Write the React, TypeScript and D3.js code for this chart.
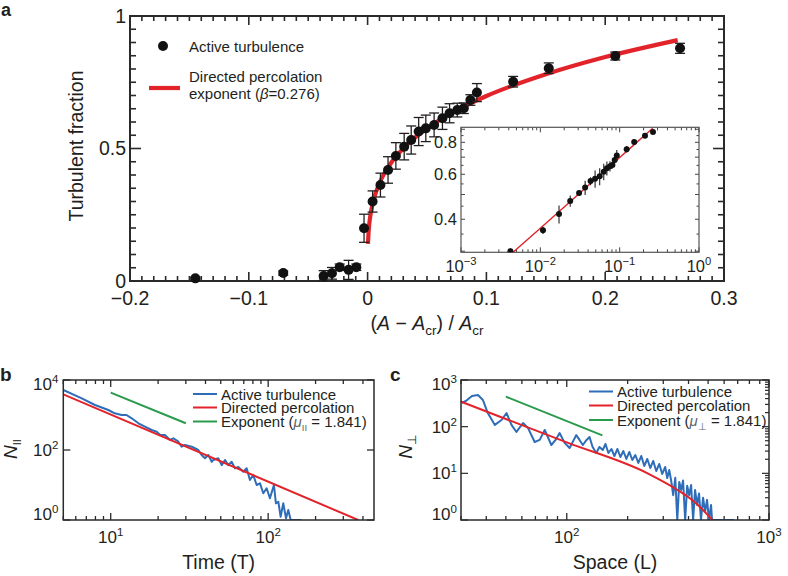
import React from 'react';
import * as d3 from 'd3';

const FONT = "'Liberation Sans', Arial, Helvetica, sans-serif";
const INK = '#231f20';
const FRAME = '#2a2a2a';
const RED = '#e3232a';
const BLUE = '#2f6db8';
const GREEN = '#2a9a4c';

// ---------------- Panel a: turbulent fraction ----------------
const fracX = [-0.145, -0.071, -0.037, -0.030, -0.0235, -0.016, -0.0095, -0.003, 0.0042, 0.0108, 0.0172, 0.0238, 0.0308, 0.0367, 0.043, 0.049, 0.056, 0.063, 0.069, 0.0755, 0.081, 0.0865, 0.092, 0.1225, 0.1525, 0.2085, 0.263];
const fracY = [0.01, 0.03, 0.019, 0.029, 0.052, 0.042, 0.052, 0.199, 0.30, 0.362, 0.419, 0.472, 0.507, 0.532, 0.564, 0.576, 0.589, 0.614, 0.633, 0.645, 0.652, 0.683, 0.711, 0.752, 0.803, 0.849, 0.878];
const fracErr = [0.004, 0.008, 0.02, 0.022, 0.012, 0.036, 0.012, 0.053, 0.04, 0.045, 0.05, 0.05, 0.05, 0.053, 0.053, 0.05, 0.045, 0.042, 0.036, 0.026, 0.02, 0.02, 0.034, 0.02, 0.02, 0.015, 0.019];
const insetErr = [0.008, 0.012, 0.034, 0.024, 0.012, 0.034, 0.02, 0.045, 0.045, 0.045, 0.04, 0.03, 0.02, 0.02, 0.035, 0.022, 0.02, 0.015, 0.012];
const dpFitX = [0.0003, 0.001, 0.002, 0.005, 0.01, 0.02, 0.03, 0.05, 0.075, 0.1, 0.15, 0.2, 0.261];
const dpFitY = [0.140, 0.196, 0.237, 0.305, 0.369, 0.447, 0.500, 0.576, 0.644, 0.698, 0.780, 0.845, 0.909];
const aXTickLabels = [-0.2, -0.1, 0, 0.1, 0.2, 0.3];
const aYTickLabels = [0, 0.5, 1];
const insetYTickLabels = [0.4, 0.6, 0.8];
const insetXTickLabels = [1e-3, 1e-2, 1e-1, 1];

// ---------------- Panel b: N_parallel vs time ----------------
const bActive: [number, number][] = [
  [5.0, 5180], [6.55, 3000], [7.95, 1930], [9.66, 1390], [10.6, 1120], [11.7, 1000], [12.6, 1000], [13.6, 805],
  [15.0, 580], [16.5, 463], [18.2, 373], [19.6, 333], [20.6, 268], [22.1, 268], [23.8, 193], [25.0, 216],
  [26.9, 173], [28.2, 124], [29.6, 139], [32.7, 124], [36.0, 100], [37.8, 72], [39.7, 58], [41.7, 72],
  [43.8, 46], [44.8, 52], [48.2, 58], [50.7, 37], [53.2, 52], [55.8, 37], [58.6, 46], [61.5, 30],
  [64.6, 33], [69.5, 24], [73, 30], [76.6, 13.9], [80.4, 19.3], [84.5, 10], [88.7, 11.2], [93.1, 5.8],
  [97.8, 8.05], [102.6, 4.17], [108.8, 10], [112, 3.0], [116, 3.33], [120, 1.24], [124.7, 3.0], [129.8, 1.12],
  [134.2, 1.93], [139, 1], [144, 1], [163, 1]
];
const bPercolation: [number, number][] = [[5, 3900], [373, 1]];
const bExponent: [number, number][] = [[10, 4340], [30, 580]];
const bXTickLabels = [10, 100];
const bYTickLabels = [1, 100, 10000];

// ---------------- Panel c: N_perp vs space ----------------
const cActive: [number, number][] = [
  [30.2, 322], [31.7, 355], [34.0, 454], [36.4, 477], [38.5, 373], [40.7, 196], [44.1, 109], [47.6, 139],
  [50.4, 196], [53.3, 109], [56.4, 77], [60.8, 120], [64.3, 94], [69.4, 47], [73.5, 52], [77.8, 85],
  [83.9, 40.5], [88.1, 52], [92.2, 73], [97.6, 45], [103.3, 35], [111.4, 66], [115.7, 52], [120.1, 40.5],
  [125.3, 52], [129.6, 60], [134.1, 37], [139.8, 27.3], [145.1, 36.7], [150.7, 31.6], [155.4, 42.5], [160.7, 27.3],
  [166.3, 33.2], [172.1, 23.5], [178.0, 33.2], [184.2, 22.4], [190.5, 30.1], [197.1, 20.3], [203.9, 28.7], [211.0, 19.3],
  [218.3, 24.7], [225.9, 16.7], [233.7, 23.5], [241.8, 14.4], [250.2, 20.3], [258.8, 13.0], [267.7, 18.4], [277.0, 11.2],
  [286.6, 15.9], [296.5, 9.7], [306.8, 13.7], [313.9, 7.9], [321.1, 11.8], [328.5, 6.85], [336, 3.4], [344, 8.0],
  [352, 1], [360, 6.5], [368, 4.4], [376, 7.0], [385, 1], [394, 5.4], [403, 3.4], [412, 5.6],
  [421.5, 1], [431, 4.4], [441, 2.1], [451, 3.7], [461, 1], [472, 3.0], [483, 1.5], [494, 2.7],
  [505, 1], [517, 2.1], [523, 1], [671, 1]
];
const cPercolation: [number, number][] = [[30, 343], [100, 46], [251, 10], [353, 4.4], [427, 2.47], [525, 1]];
const cExponent: [number, number][] = [[50, 440], [150, 65]];
const cXTickLabels = [100, 1000];
const cYTickLabels = [1, 10, 100, 1000];

const isDecade = (v: number) => Math.abs(Math.log10(v) - Math.round(Math.log10(v))) < 1e-9;
const expStr = (v: number) => {
  const e = Math.round(Math.log10(v));
  return e < 0 ? '\u2212' + Math.abs(e) : String(e);
};

function Pow({ x, y, v, anchor, size }: { x: number; y: number; v: number; anchor: string; size: number }) {
  return (
    <text x={x} y={y} textAnchor={anchor as any} fontSize={size} fontFamily={FONT} fill={INK}>
      10<tspan dy={-size * 0.42} fontSize={size * 0.68}>{expStr(v)}</tspan>
    </text>
  );
}

export default function App() {
  // ---- scales
  const xA = d3.scaleLinear().domain([-0.2, 0.3]).range([130, 724]);
  const yA = d3.scaleLinear().domain([0, 1]).range([281, 16]);
  const xI = d3.scaleLog().domain([1e-3, 1]).range([461, 699]);
  const yI = d3.scaleLog().domain([0.297, 0.916]).range([252.3, 127.3]);
  const xB = d3.scaleLog().domain([5, 470]).range([63.3, 374]);
  const yB = d3.scaleLog().domain([1, 1e4]).range([520, 380]);
  const xC = d3.scaleLog().domain([30, 1000]).range([461, 769]);
  const yC = d3.scaleLog().domain([1, 1000]).range([520, 380]);

  const [aL, aR] = xA.range();
  const [aB, aT] = yA.range();
  const [iL, iR] = xI.range();
  const [iB, iT] = yI.range();
  const [bL, bR] = xB.range();
  const [bB, bT] = yB.range();
  const [cL, cR] = xC.range();
  const [cB, cT] = yC.range();

  const fitPts = dpFitX.map((x, i) => [x, dpFitY[i]] as [number, number]);
  const fitLineA = d3.line<[number, number]>().x(d => xA(d[0])).y(d => yA(d[1])).curve(d3.curveMonotoneX)(fitPts) || '';
  const fitLineI = d3.line<[number, number]>().x(d => xI(d[0])).y(d => yI(d[1]))(fitPts) || '';

  const lineB = d3.line<[number, number]>().x(d => xB(d[0])).y(d => yB(d[1]));
  const lineC = d3.line<[number, number]>().x(d => xC(d[0])).y(d => yC(d[1]));
  const lineCsmooth = d3.line<[number, number]>().x(d => xC(d[0])).y(d => yC(d[1])).curve(d3.curveMonotoneX);

  // ---- panel a ticks
  const aXMinor = d3.range(-20, 31).map(i => i / 100);
  const aYMinor = d3.range(0, 21).map(i => i / 20);

  const insetPts = fracX.map((x, i) => ({ x, y: fracY[i] })).filter(d => d.x > 0);
  const insetYMinor = d3.range(6, 19).map(i => i / 20).filter(v => v >= 0.3 && v <= 0.9);

  const txt = { fontFamily: FONT, fill: INK } as const;

  return (
    <svg width={788} height={576} style={{ position: 'absolute', left: 0, top: 0, background: '#fff' }}>
      <defs>
        <clipPath id="clipA"><rect x={aL} y={aT} width={aR - aL} height={aB - aT} /></clipPath>
        <clipPath id="clipI"><rect x={iL} y={iT} width={iR - iL} height={iB - iT} /></clipPath>
        <clipPath id="clipB"><rect x={bL} y={bT - 1} width={bR - bL} height={bB - bT + 1} /></clipPath>
        <clipPath id="clipC"><rect x={cL} y={cT - 1} width={cR - cL} height={cB - cT + 1} /></clipPath>
      </defs>
      <rect width={788} height={576} fill="#fff" />

      {/* ================= Panel a ================= */}
      <text x={1} y={16} fontSize={18} fontWeight="bold" {...txt}>a</text>
      {aXMinor.map((v, i) => {
        const k = Math.round(v * 100);
        const len = k % 10 === 0 ? 9 : 5;
        return (
          <g key={'axt' + i} stroke={FRAME} strokeWidth={1.6}>
            <line x1={xA(v)} x2={xA(v)} y1={aB} y2={aB - len} />
            <line x1={xA(v)} x2={xA(v)} y1={aT} y2={aT + len} />
          </g>
        );
      })}
      {aYMinor.map((v, i) => {
        const k = Math.round(v * 20);
        const len = k % 10 === 0 ? 11 : 6;
        return (
          <g key={'ayt' + i} stroke={FRAME} strokeWidth={1.6}>
            <line x1={aL} x2={aL + len} y1={yA(v)} y2={yA(v)} />
            <line x1={aR} x2={aR - len} y1={yA(v)} y2={yA(v)} />
          </g>
        );
      })}
      <rect x={aL} y={aT} width={aR - aL} height={aB - aT} fill="none" stroke={FRAME} strokeWidth={2} />
      {aXTickLabels.map((v, i) => (
        <text key={'axl' + i} x={xA(v)} y={305} textAnchor="middle" fontSize={19.5} {...txt}>
          {v < 0 ? '\u2212' + Math.abs(v) : String(v)}
        </text>
      ))}
      {aYTickLabels.map((v, i) => (
        <text key={'ayl' + i} x={aL - 4} y={yA(v) + 6.5} textAnchor="end" fontSize={19.5} {...txt}>{String(v)}</text>
      ))}
      <text transform={`translate(83,146) rotate(-90)`} textAnchor="middle" fontSize={19.5} {...txt}>Turbulent fraction</text>
      <text x={(aL + aR) / 2} y={330} textAnchor="middle" fontSize={19.5} {...txt}>
        (<tspan fontStyle="italic">A</tspan> {'\u2212'} <tspan fontStyle="italic">A</tspan>
        <tspan fontSize={13.5} dy={5}>cr</tspan><tspan dy={-5}>) / </tspan>
        <tspan fontStyle="italic">A</tspan><tspan fontSize={13.5} dy={5}>cr</tspan>
      </text>

      <path d={fitLineA} fill="none" stroke={RED} strokeWidth={4.2} clipPath="url(#clipA)" />
      {fracX.map((x, i) => {
        const cx = xA(x);
        const y0 = yA(Math.max(0, fracY[i] - fracErr[i]));
        const y1 = yA(fracY[i] + fracErr[i]);
        return (
          <g key={'ap' + i} stroke={INK} strokeWidth={1.3}>
            <line x1={cx} x2={cx} y1={y0} y2={y1} />
            <line x1={cx - 5} x2={cx + 5} y1={y1} y2={y1} />
            <line x1={cx - 5} x2={cx + 5} y1={y0} y2={y0} />
            <circle cx={cx} cy={yA(fracY[i])} r={5} fill="#111" stroke="none" />
          </g>
        );
      })}

      {/* legend a */}
      <circle cx={163} cy={46} r={5} fill="#111" />
      <text x={189} y={52} fontSize={15} {...txt}>Active turbulence</text>
      <line x1={149} x2={180} y1={88} y2={88} stroke={RED} strokeWidth={4.2} />
      <text x={189} y={82} fontSize={15} {...txt}>Directed percolation</text>
      <text x={189} y={99} fontSize={15} {...txt}>
        exponent (<tspan fontStyle="italic">{'\u03B2'}</tspan>=0.276)
      </text>

      {/* inset */}
      <rect x={iL} y={iT} width={iR - iL} height={iB - iT} fill="#fff" stroke="none" />
      {xI.ticks().filter(v => v >= 1e-3 && v <= 1).map((v, i) => {
        const len = isDecade(v) ? 5 : 3;
        return (
          <g key={'ixt' + i} stroke="#444" strokeWidth={1}>
            <line x1={xI(v)} x2={xI(v)} y1={iB} y2={iB - len} />
            <line x1={xI(v)} x2={xI(v)} y1={iT} y2={iT + len} />
          </g>
        );
      })}
      {insetYMinor.map((v, i) => {
        const len = Math.round(v * 20) % 2 === 0 ? 4 : 2.5;
        return (
          <g key={'iyt' + i} stroke="#444" strokeWidth={1}>
            <line x1={iL} x2={iL + len} y1={yI(v)} y2={yI(v)} />
            <line x1={iR} x2={iR - len} y1={yI(v)} y2={yI(v)} />
          </g>
        );
      })}
      <rect x={iL} y={iT} width={iR - iL} height={iB - iT} fill="none" stroke="#555" strokeWidth={1.2} />
      {insetXTickLabels.map((v, i) => (
        <Pow key={'ixl' + i} x={xI(v)} y={272} v={v} anchor="middle" size={16.5} />
      ))}
      {insetYTickLabels.map((v, i) => (
        <text key={'iyl' + i} x={iL - 4} y={yI(v) + 6} textAnchor="end" fontSize={16.5} {...txt}>{String(v)}</text>
      ))}
      <path d={fitLineI} fill="none" stroke={RED} strokeWidth={1.4} clipPath="url(#clipI)" />
      <g clipPath="url(#clipI)">
        {insetPts.map((d, i) => (
          <g key={'ip' + i}>
            <line x1={xI(d.x)} x2={xI(d.x)} y1={yI(d.y - insetErr[i])} y2={yI(d.y + insetErr[i])} stroke={INK} strokeWidth={1.1} />
            <circle cx={xI(d.x)} cy={yI(d.y)} r={3} fill="#111" />
          </g>
        ))}
      </g>

      {/* ================= Panel b ================= */}
      <text x={0} y={381} fontSize={19} fontWeight="bold" {...txt}>b</text>
      {xB.ticks().filter(v => v >= 5 && v <= 470).map((v, i) => {
        const len = isDecade(v) ? 7 : 4;
        return (
          <g key={'bxt' + i} stroke={FRAME} strokeWidth={1.3}>
            <line x1={xB(v)} x2={xB(v)} y1={bB} y2={bB - len} />
            <line x1={xB(v)} x2={xB(v)} y1={bT} y2={bT + len} />
          </g>
        );
      })}
      {bYTickLabels.map((v, i) => (
        <g key={'byt' + i} stroke={FRAME} strokeWidth={1.3}>
          <line x1={bL} x2={bL + 7} y1={yB(v)} y2={yB(v)} />
          <line x1={bR} x2={bR - 7} y1={yB(v)} y2={yB(v)} />
        </g>
      ))}
      <g clipPath="url(#clipB)" fill="none" strokeWidth={2} strokeLinejoin="round">
        <path d={lineB(bActive) || ''} stroke={BLUE} />
        <path d={lineB(bPercolation) || ''} stroke={RED} />
        <path d={lineB(bExponent) || ''} stroke={GREEN} />
      </g>
      <rect x={bL} y={bT} width={bR - bL} height={bB - bT} fill="none" stroke={FRAME} strokeWidth={1.5} />
      {bXTickLabels.map((v, i) => (
        <Pow key={'bxl' + i} x={xB(v)} y={543} v={v} anchor="middle" size={17} />
      ))}
      {bYTickLabels.map((v, i) => (
        <Pow key={'byl' + i} x={bL - 5} y={Math.min(bB - 6, Math.max(bT + 4, yB(v))) + 6} v={v} anchor="end" size={17} />
      ))}
      <text transform={`translate(17,449) rotate(-90)`} textAnchor="middle" fontSize={19} {...txt}>
        <tspan fontStyle="italic">N</tspan><tspan fontSize={11} dy={4}>II</tspan>
      </text>
      <text x={(bL + bR) / 2} y={569} textAnchor="middle" fontSize={19.5} {...txt}>Time (T)</text>
      <g strokeWidth={2}>
        <line x1={193} x2={217} y1={394} y2={394} stroke={BLUE} />
        <line x1={193} x2={217} y1={407.5} y2={407.5} stroke={RED} />
        <line x1={193} x2={217} y1={421.5} y2={421.5} stroke={GREEN} />
      </g>
      <text x={221} y={399.5} fontSize={15} {...txt}>Active turbulence</text>
      <text x={221} y={413} fontSize={15} {...txt}>Directed percolation</text>
      <text x={221} y={427} fontSize={15} {...txt}>
        Exponent (<tspan fontStyle="italic" fill="#666">{'\u03BC'}</tspan>
        <tspan fontSize={9.5} dy={4} fill="#666">II</tspan><tspan dy={-4}> = 1.841)</tspan>
      </text>

      {/* ================= Panel c ================= */}
      <text x={390} y={381} fontSize={19} fontWeight="bold" {...txt}>c</text>
      {xC.ticks().filter(v => v >= 30 && v <= 1000).map((v, i) => {
        const len = isDecade(v) ? 7 : 4;
        return (
          <g key={'cxt' + i} stroke={FRAME} strokeWidth={1.3}>
            <line x1={xC(v)} x2={xC(v)} y1={cB} y2={cB - len} />
            <line x1={xC(v)} x2={xC(v)} y1={cT} y2={cT + len} />
          </g>
        );
      })}
      {yC.ticks().filter(v => v >= 1 && v <= 1000).map((v, i) => {
        const major = isDecade(v);
        return (
          <g key={'cyt' + i} stroke={FRAME} strokeWidth={1.2}>
            {major && <line x1={cL} x2={cL + 7} y1={yC(v)} y2={yC(v)} />}
            <line x1={cR} x2={cR - (major ? 7 : 4)} y1={yC(v)} y2={yC(v)} />
          </g>
        );
      })}
      <g clipPath="url(#clipC)" fill="none" strokeWidth={2} strokeLinejoin="round">
        <path d={lineC(cActive) || ''} stroke={BLUE} />
        <path d={lineCsmooth(cPercolation) || ''} stroke={RED} />
        <path d={lineC(cExponent) || ''} stroke={GREEN} />
      </g>
      <rect x={cL} y={cT} width={cR - cL} height={cB - cT} fill="none" stroke={FRAME} strokeWidth={1.5} />
      {cXTickLabels.map((v, i) => (
        <Pow key={'cxl' + i} x={xC(v)} y={543} v={v} anchor="middle" size={17} />
      ))}
      {cYTickLabels.map((v, i) => (
        <Pow key={'cyl' + i} x={cL - 4} y={Math.min(cB - 6, Math.max(cT + 4, yC(v))) + 6} v={v} anchor="end" size={17} />
      ))}
      <text transform={`translate(412,447) rotate(-90)`} textAnchor="middle" fontSize={19} {...txt}>
        <tspan fontStyle="italic">N</tspan><tspan fontSize={12} dy={4}>{'\u22A5'}</tspan>
      </text>
      <text x={(cL + cR) / 2} y={569} textAnchor="middle" fontSize={19.5} {...txt}>Space (L)</text>
      <g strokeWidth={2}>
        <line x1={589} x2={613} y1={391.5} y2={391.5} stroke={BLUE} />
        <line x1={589} x2={613} y1={405.5} y2={405.5} stroke={RED} />
        <line x1={589} x2={613} y1={420} y2={420} stroke={GREEN} />
      </g>
      <text x={617} y={397} fontSize={15} {...txt}>Active turbulence</text>
      <text x={617} y={411} fontSize={15} {...txt}>Directed percolation</text>
      <text x={617} y={425.5} fontSize={15} {...txt}>
        Exponent (<tspan fontStyle="italic" fill="#666">{'\u03BC'}</tspan>
        <tspan fontSize={10} dy={4} fill="#666">{'\u22A5'}</tspan><tspan dy={-4}> = 1.841)</tspan>
      </text>
    </svg>
  );
}
